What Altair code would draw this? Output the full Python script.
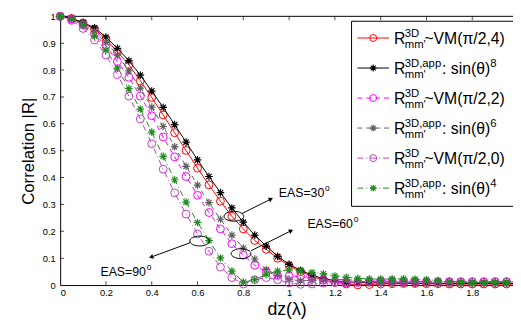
import math
import altair as alt
import pandas as pd

# ---------------- data ----------------
x_vals = [0.00, 0.05, 0.10, 0.15, 0.20, 0.25, 0.30, 0.35, 0.40, 0.45,
          0.50, 0.55, 0.60, 0.65, 0.70, 0.75, 0.80, 0.85, 0.90, 0.95,
          1.00, 1.05, 1.10, 1.15, 1.20, 1.25, 1.30, 1.35, 1.40, 1.45,
          1.50, 1.55, 1.60, 1.65, 1.70, 1.75, 1.80, 1.85, 1.90, 1.95,
          2.00]

r_vm4 = [1.000, 0.992, 0.975, 0.953, 0.915, 0.868, 0.820, 0.760, 0.698, 0.633,
         0.567, 0.501, 0.435, 0.373, 0.312, 0.256, 0.209, 0.166, 0.133, 0.100,
         0.072, 0.050, 0.032, 0.019, 0.010, 0.004, 0.001, 0.002, 0.004, 0.005,
         0.006, 0.006, 0.005, 0.005, 0.004, 0.004, 0.004, 0.004, 0.004, 0.004,
         0.004]
r_sin8 = [1.000, 0.993, 0.977, 0.957, 0.923, 0.881, 0.835, 0.781, 0.722, 0.661,
          0.597, 0.532, 0.466, 0.404, 0.344, 0.287, 0.234, 0.186, 0.145, 0.107,
          0.077, 0.055, 0.037, 0.024, 0.016, 0.012, 0.010, 0.009, 0.008, 0.008,
          0.008, 0.007, 0.007, 0.007, 0.006, 0.006, 0.006, 0.006, 0.006, 0.006,
          0.006]
r_vm2 = [1.000, 0.990, 0.968, 0.935, 0.890, 0.832, 0.773, 0.703, 0.630, 0.551,
         0.477, 0.404, 0.334, 0.270, 0.209, 0.154, 0.111, 0.074, 0.050, 0.036,
         0.033, 0.032, 0.027, 0.019, 0.012, 0.008, 0.010, 0.014, 0.016, 0.016,
         0.015, 0.014, 0.013, 0.013, 0.013, 0.013, 0.013, 0.013, 0.013, 0.013,
         0.013]
r_sin6 = [1.000, 0.990, 0.970, 0.944, 0.903, 0.856, 0.797, 0.733, 0.662, 0.590,
          0.515, 0.442, 0.372, 0.307, 0.245, 0.186, 0.138, 0.097, 0.058, 0.036,
          0.021, 0.016, 0.017, 0.020, 0.021, 0.020, 0.017, 0.014, 0.012, 0.011,
          0.011, 0.012, 0.013, 0.013, 0.012, 0.011, 0.010, 0.010, 0.010, 0.010,
          0.010]
r_vm0 = [1.000, 0.985, 0.955, 0.912, 0.856, 0.783, 0.703, 0.618, 0.526, 0.431,
         0.343, 0.264, 0.190, 0.126, 0.067, 0.028, 0.004, 0.020, 0.028, 0.020,
         0.008, 0.003, 0.004, 0.007, 0.010, 0.012, 0.013, 0.013, 0.012, 0.012,
         0.011, 0.011, 0.011, 0.011, 0.011, 0.011, 0.011, 0.011, 0.011, 0.011,
         0.011]
r_sin4 = [1.000, 0.990, 0.966, 0.927, 0.874, 0.807, 0.731, 0.655, 0.569, 0.479,
          0.392, 0.309, 0.233, 0.166, 0.101, 0.052, 0.011, 0.020, 0.040, 0.052,
          0.056, 0.052, 0.047, 0.042, 0.034, 0.029, 0.025, 0.023, 0.022, 0.023,
          0.023, 0.022, 0.020, 0.017, 0.013, 0.010, 0.009, 0.009, 0.010, 0.010,
          0.010]

x_ticks = [0, 0.2, 0.4, 0.6, 0.8, 1.0, 1.2, 1.4, 1.6, 1.8]
y_ticks = [0, 0.1, 0.2, 0.3, 0.4, 0.5, 0.6, 0.7, 0.8, 0.9, 1.0]

legend_sup = ["3D", "3D,app", "3D", "3D,app", "3D", "3D,app"]
legend_rest = ["~VM(π/2,4)", ": sin(θ)", "~VM(π/2,2)", ": sin(θ)", "~VM(π/2,0)", ": sin(θ)"]
legend_exp = ["", "8", "", "6", "", "4"]

# annotations (data coordinates)
eas_labels = ["EAS=30", "EAS=60", "EAS=90"]
eas_x = [0.955, 1.080, 0.176]
eas_y = [0.344, 0.227, 0.050]
ell_x = [0.759, 0.790, 0.609]
ell_y = [0.256, 0.117, 0.164]
arr_x0 = [0.796, 0.834, 0.569]
arr_y0 = [0.267, 0.128, 0.158]
arr_x1 = [0.918, 1.006, 0.400]
arr_y1 = [0.319, 0.201, 0.105]

# ---------------- layout ----------------
W, H = 460, 273
XMAX = 1.978
FONT = "Liberation Sans"
px_x = W / XMAX
px_y = H / 1.0

xs = alt.Scale(domain=[0, XMAX], nice=False, zero=False)
ys = alt.Scale(domain=[0, 1], nice=False, zero=False)

x_axis = alt.Axis(
    values=x_ticks, format="~g", title="dz(λ)", ticks=False, grid=False,
    labelFont=FONT, labelFontSize=9.5, labelColor="black", labelPadding=3,
    labelOverlap=False, titleFont=FONT, titleFontSize=18, titleFontWeight="normal",
    titleColor="black", titlePadding=3, domainColor="black", domainWidth=1)
y_axis = alt.Axis(
    values=y_ticks, format="~g", title="Correlation |R|", ticks=False, grid=False,
    labelFont=FONT, labelFontSize=9.5, labelColor="black", labelPadding=5,
    labelOverlap=False, titleFont=FONT, titleFontSize=17, titleFontWeight="normal",
    titleColor="black", titlePadding=5, domainColor="black", domainWidth=1)

STAR = "M0,-1L0,1M-1,0L1,0M-0.7,-0.7L0.7,0.7M-0.7,0.7L0.7,-0.7"
ELLIPSE = "M-1,0A1,0.5,0,1,1,1,0A1,0.5,0,1,1,-1,0Z"

series = [
    ("vm4", r_vm4, "#FF0000", None, "circle"),
    ("sin8", r_sin8, "#000000", None, "star"),
    ("vm2", r_vm2, "#FF00FF", [5, 4], "circle"),
    ("sin6", r_sin6, "#606060", [5, 4], "star"),
    ("vm0", r_vm0, "#BF3FBF", [6, 3, 1, 3], "circle"),
    ("sin4", r_sin4, "#1E8C1E", [6, 3, 1, 3], "star"),
]

layers = []

# frame: top line and inward ticks (this layer carries the axes)
top_df = pd.DataFrame({"tx": [0.0], "v": [1.0]})
layers.append(alt.Chart(top_df).mark_rule(color="black", strokeWidth=1).encode(
    y=alt.Y("v:Q", scale=ys, axis=y_axis)))
xt_df = pd.DataFrame({"tx": [t for t in x_ticks[1:] for _ in (0, 1)],
                      "ty": [v for _ in x_ticks[1:] for v in (0.0, 1.0)]})
layers.append(alt.Chart(xt_df).mark_tick(orient="vertical", size=8, thickness=1,
                                         color="black", clip=True).encode(
    x=alt.X("tx:Q", scale=xs, axis=x_axis), y=alt.Y("ty:Q", scale=ys, axis=y_axis)))
yt_df = pd.DataFrame({"tx": [0.0] * 9, "ty": y_ticks[1:10]})
layers.append(alt.Chart(yt_df).mark_tick(orient="horizontal", size=8, thickness=1,
                                         color="black", clip=True).encode(
    x=alt.X("tx:Q", scale=xs, axis=x_axis), y=alt.Y("ty:Q", scale=ys, axis=y_axis)))

for name, vals, col, dash, shape in series:
    df = pd.DataFrame({"x": x_vals, "y": vals})
    line_kw = dict(color=col, strokeWidth=1)
    if dash:
        line_kw["strokeDash"] = dash
    xenc = alt.X("x:Q", scale=xs, axis=x_axis)
    yenc = alt.Y("y:Q", scale=ys, axis=y_axis)
    layers.append(alt.Chart(df).mark_line(**line_kw).encode(x=xenc, y=yenc))
    if shape == "circle":
        pt = alt.Chart(df).mark_point(shape="circle", filled=False, color=col,
                                      size=64, strokeWidth=1, opacity=1)
    else:
        pt = alt.Chart(df).mark_point(shape=STAR, filled=False, color=col,
                                      size=60, strokeWidth=1.2, opacity=1)
    layers.append(pt.encode(x=xenc, y=yenc))

# annotations: ellipses, arrows, labels
ell_df = pd.DataFrame({"x": ell_x, "y": ell_y})
layers.append(alt.Chart(ell_df).mark_point(shape=ELLIPSE, filled=False, color="black",
                                           size=400, strokeWidth=1, opacity=1).encode(
    x=alt.X("x:Q", scale=xs, axis=x_axis), y=alt.Y("y:Q", scale=ys, axis=y_axis)))
arr_df = pd.DataFrame({"x0": arr_x0, "y0": arr_y0, "x1": arr_x1, "y1": arr_y1})
arr_df["ang"] = [
    (math.degrees(math.atan2((b - a) * px_x, (d - c) * px_y)) + 360) % 360
    for a, b, c, d in zip(arr_x0, arr_x1, arr_y0, arr_y1)
]
layers.append(alt.Chart(arr_df).mark_rule(color="black", strokeWidth=1).encode(
    x=alt.X("x0:Q", scale=xs, axis=x_axis), y=alt.Y("y0:Q", scale=ys, axis=y_axis),
    x2="x1:Q", y2="y1:Q"))
layers.append(alt.Chart(arr_df).mark_point(shape="triangle", filled=True, color="black",
                                           size=25, opacity=1).encode(
    x=alt.X("x1:Q", scale=xs, axis=x_axis), y=alt.Y("y1:Q", scale=ys, axis=y_axis),
    angle=alt.Angle("ang:Q", scale=None)))
eas_df = pd.DataFrame({"x": eas_x, "y": eas_y, "t": eas_labels})
layers.append(alt.Chart(eas_df).mark_text(align="left", baseline="middle", font=FONT,
                                          fontSize=12.5, color="black").encode(
    x=alt.X("x:Q", scale=xs, axis=x_axis), y=alt.Y("y:Q", scale=ys, axis=y_axis),
    text="t:N"))
layers.append(alt.Chart(eas_df).mark_text(align="left", baseline="middle", font=FONT,
                                          fontSize=8.5, color="black", dx=47, dy=-5).encode(
    x=alt.X("x:Q", scale=xs, axis=x_axis), y=alt.Y("y:Q", scale=ys, axis=y_axis),
    text=alt.value("o")))

# ---------------- legend (pixel layout inside the plot area) ----------------
box_df = pd.DataFrame({"bx": [296], "bx2": [480], "by": [5], "by2": [193]})
layers.append(alt.Chart(box_df).mark_rect(fill="white", stroke="black", strokeWidth=1).encode(
    x=alt.X("bx:Q", scale=None, axis=None), x2="bx2:Q",
    y=alt.Y("by:Q", scale=None, axis=None), y2="by2:Q"))

rows_y = [22 + 30.5 * i for i in range(6)]
for i, (name, vals, col, dash, shape) in enumerate(series):
    ly = rows_y[i]
    sdf = pd.DataFrame({"a": [302], "b": [334], "c": [ly]})
    kw = dict(color=col, strokeWidth=1)
    if dash:
        kw["strokeDash"] = dash
    layers.append(alt.Chart(sdf).mark_rule(**kw).encode(
        x=alt.X("a:Q", scale=None, axis=None), x2="b:Q",
        y=alt.Y("c:Q", scale=None, axis=None)))
    mdf = pd.DataFrame({"a": [318], "c": [ly]})
    if shape == "circle":
        mk = alt.Chart(mdf).mark_point(shape="circle", filled=False, color=col, size=50,
                                       strokeWidth=1, opacity=1)
    else:
        mk = alt.Chart(mdf).mark_point(shape=STAR, filled=False, color=col, size=50,
                                       strokeWidth=1.2, opacity=1)
    layers.append(mk.encode(x=alt.X("a:Q", scale=None, axis=None),
                            y=alt.Y("c:Q", scale=None, axis=None)))

tx, ty, tt, tf = [], [], [], []
for i in range(6):
    ly = rows_y[i]
    tx += [339, 350, 350]
    ty += [ly + 6, ly - 1, ly + 10]
    tt += ["R", legend_sup[i], "mm'"]
    tf += [16, 11.5, 11.5]
    rx = 370 if legend_exp[i] == "" else 388
    tx.append(rx); ty.append(ly + 6); tt.append(legend_rest[i]); tf.append(16)
    if legend_exp[i]:
        tx.append(rx + 49); ty.append(ly - 1); tt.append(legend_exp[i]); tf.append(11.5)
leg_df = pd.DataFrame({"lx": tx, "ly": ty, "t": tt, "fs": tf})
layers.append(alt.Chart(leg_df).mark_text(align="left", baseline="alphabetic", font=FONT,
                                          color="black").encode(
    x=alt.X("lx:Q", scale=None, axis=None), y=alt.Y("ly:Q", scale=None, axis=None),
    text="t:N", size=alt.Size("fs:Q", scale=None)))

chart = alt.layer(*layers).properties(
    width=W, height=H,
    autosize=alt.AutoSizeParams(type="none"),
    padding={"left": 53, "top": 6, "right": 0, "bottom": 33},
    background="white",
).configure_view(stroke="transparent")

chart.save("out.html", embed_options={"renderer": "svg", "actions": False})
